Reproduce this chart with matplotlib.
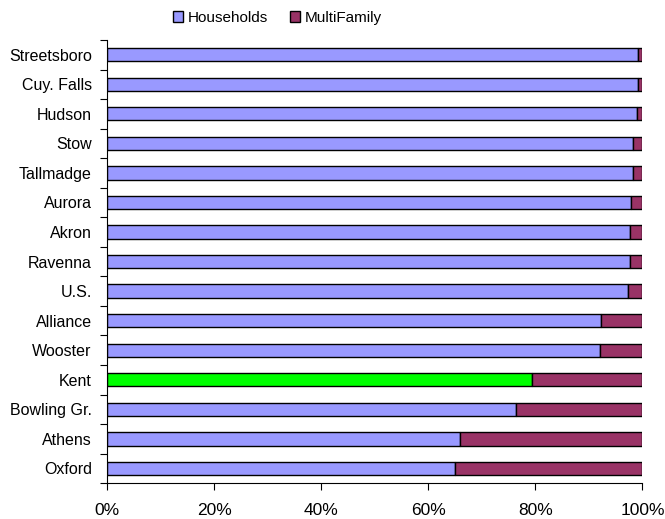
import numpy as np
import matplotlib.pyplot as plt
from matplotlib.patches import Patch

plt.rcParams['font.family'] = ['Liberation Sans', 'DejaVu Sans']

cities = ['Streetsboro', 'Cuy. Falls', 'Hudson', 'Stow', 'Tallmadge', 'Aurora',
          'Akron', 'Ravenna', 'U.S.', 'Alliance', 'Wooster', 'Kent',
          'Bowling Gr.', 'Athens', 'Oxford']
households = [99.2, 99.2, 98.9, 98.3, 98.3, 97.9, 97.6, 97.6, 97.4,
              92.3, 92.0, 79.4, 76.4, 66.0, 65.0]
multifamily = [100 - h for h in households]

hh_colour = '#9999FF'
mf_colour = '#993366'
highlight = 'Kent'

fig = plt.figure(figsize=(6.65, 5.19), dpi=100)
ax = fig.add_axes([0.161, 0.069, 0.805, 0.854])

y = np.arange(len(cities))
hh_cols = ['#00FF00' if c == highlight else hh_colour for c in cities]
ax.barh(y, households, height=0.45, color=hh_cols, edgecolor='black', linewidth=1)
ax.barh(y, multifamily, left=households, height=0.45, color=mf_colour,
        edgecolor='black', linewidth=1)

ax.set_ylim(len(cities) - 0.5, -0.5)
ax.set_xlim(0, 100)
ax.set_yticks(y)
ax.set_yticklabels(cities, fontsize=11.5)
ax.set_yticks(np.arange(-0.5, len(cities), 1), minor=True)
ax.tick_params(axis='y', which='major', length=0, pad=11)
ax.tick_params(axis='y', which='minor', length=5, width=0.8, direction='out')
ax.set_xticks(np.arange(0, 101, 20))
ax.set_xticklabels(['{}%'.format(v) for v in range(0, 101, 20)], fontsize=12.5)
ax.tick_params(axis='x', length=5, width=0.8, direction='out', pad=9)
for s in ['top', 'right']:
    ax.spines[s].set_visible(False)
for s in ['left', 'bottom']:
    ax.spines[s].set_linewidth(0.8)

handles = [Patch(facecolor=hh_colour, edgecolor='black', label='Households'),
           Patch(facecolor=mf_colour, edgecolor='black', label='MultiFamily')]
fig.legend(handles=handles, loc='center', bbox_to_anchor=(0.417, 0.965), ncol=2,
           frameon=False, fontsize=11, handlelength=0.7, handleheight=0.7,
           handletextpad=0.3, columnspacing=1.4)

plt.savefig('out.png', dpi=100)
